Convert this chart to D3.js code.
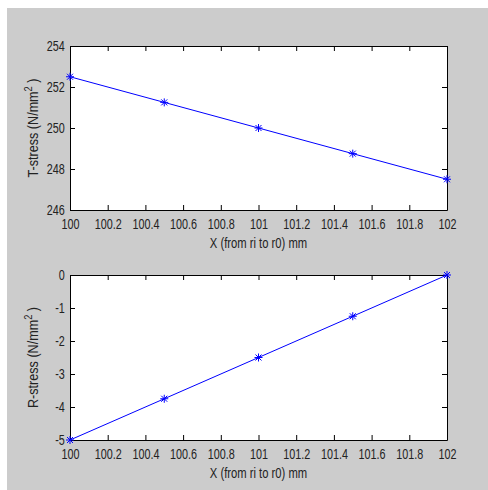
<!DOCTYPE html>
<html>
<head>
<meta charset="utf-8">
<script src="https://cdn.jsdelivr.net/npm/d3@7"></script>
<style>
  body { margin: 0; background: #fff; }
  text { font-family: "Liberation Sans", Arial, sans-serif; fill: #222; }
</style>
</head>
<body>
<script>
const width = 488;
const height = 490;

const xValues = [100, 100.5, 101, 101.5, 102];
const tStress = [252.5, 251.25, 250, 248.75, 247.5];
const rStress = [-5, -3.75, -2.5, -1.25, 0];

const xTicks = [100, 100.2, 100.4, 100.6, 100.8, 101, 101.2, 101.4, 101.6, 101.8, 102];
const tTicks = [246, 248, 250, 252, 254];
const rTicks = [-5, -4, -3, -2, -1, 0];

const svg = d3.select("body").append("svg")
    .attr("width", width)
    .attr("height", height);

svg.append("rect")
    .attr("x", 7).attr("y", 8)
    .attr("width", width - 7).attr("height", height - 8)
    .attr("fill", "#cccccc");

// the original uses a tall narrow font, so squeeze text horizontally
const squeeze = 0.72;
const fs = 15;

function panel(top, bottom, yDomain, yTicks, values, label) {
    const left = 70, right = 447;
    const x = d3.scaleLinear().domain([100, 102]).range([left, right]);
    const y = d3.scaleLinear().domain(yDomain).range([bottom, top]);

    const g = svg.append("g");

    g.append("rect")
        .attr("x", left).attr("y", top)
        .attr("width", right - left).attr("height", bottom - top)
        .attr("fill", "white");

    // inward ticks on all four sides
    const tick = 5;
    const fmt = d => String(d);
    g.append("g").attr("class", "xb").attr("transform", `translate(0,${bottom})`)
        .call(d3.axisBottom(x).tickValues(xTicks).tickSizeInner(-tick).tickSizeOuter(0)
            .tickFormat(fmt).tickPadding(8));
    g.append("g").attr("transform", `translate(0,${top})`)
        .call(d3.axisTop(x).tickValues(xTicks).tickSizeInner(-tick).tickSizeOuter(0).tickFormat(""));
    g.append("g").attr("class", "yl").attr("transform", `translate(${left},0)`)
        .call(d3.axisLeft(y).tickValues(yTicks).tickSizeInner(-tick).tickSizeOuter(0)
            .tickFormat(fmt).tickPadding(3));
    g.append("g").attr("transform", `translate(${right},0)`)
        .call(d3.axisRight(y).tickValues(yTicks).tickSizeInner(-tick).tickSizeOuter(0).tickFormat(""));

    g.selectAll(".domain").attr("stroke", "#000");
    g.selectAll(".tick line").attr("stroke", "#000");
    g.selectAll(".tick text")
        .attr("font-size", fs)
        .attr("fill", "#222")
        .style("font-family", "'Liberation Sans', Arial, sans-serif");
    g.selectAll(".xb .tick text").attr("transform", `scale(${squeeze},1)`);
    g.selectAll(".yl .tick text").attr("transform", `translate(-3,0) scale(${squeeze},1)`);

    const pts = xValues.map((v, i) => [x(v), y(values[i])]);

    g.append("path")
        .attr("d", d3.line()(pts))
        .attr("fill", "none")
        .attr("stroke", "#0000ff")
        .attr("stroke-width", 1);

    const star = g.selectAll(".star").data(pts).enter().append("g")
        .attr("transform", d => `translate(${d[0]},${d[1]})`)
        .attr("stroke", "#0000ff").attr("stroke-width", 1);
    star.append("line").attr("x1", -4).attr("x2", 4);
    star.append("line").attr("y1", -4).attr("y2", 4);
    star.append("line").attr("x1", -3).attr("y1", -3).attr("x2", 3).attr("y2", 3);
    star.append("line").attr("x1", -3).attr("y1", 3).attr("x2", 3).attr("y2", -3);

    g.append("text")
        .attr("transform", `translate(${(left + right) / 2},${bottom + 38}) scale(0.75,1)`)
        .attr("text-anchor", "middle")
        .attr("font-size", fs)
        .text("X (from ri to r0) mm");

    const yl = g.append("text")
        .attr("transform", `translate(38,${(top + bottom) / 2}) rotate(-90) scale(0.84,1)`)
        .attr("text-anchor", "middle")
        .attr("font-size", fs);
    yl.append("tspan").text(label + " (N/mm");
    yl.append("tspan").attr("dy", -6).attr("font-size", 11).text("2");
    yl.append("tspan").attr("dy", 6).text(" )");
}

panel(46, 210, [246, 254], tTicks, tStress, "T-stress");
panel(275, 440, [-5, 0], rTicks, rStress, "R-stress");
</script>
</body>
</html>
